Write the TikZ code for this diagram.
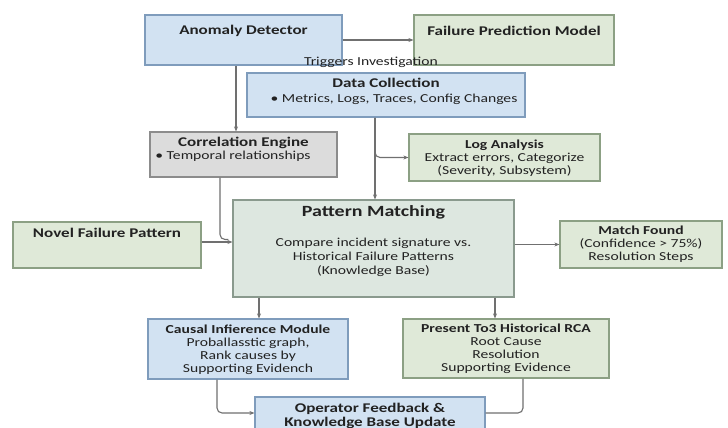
\documentclass[tikz,border=0pt]{standalone}
\usepackage{fontspec}
\setmainfont[FakeStretch=1.28]{Carlito}
\usetikzlibrary{arrows.meta,calc}
\definecolor{bluefill}{HTML}{D2E2F2}
\definecolor{blueline}{HTML}{7F9CBC}
\definecolor{greenfill}{HTML}{DFE9D8}
\definecolor{greenline}{HTML}{8CA084}
\definecolor{grayfill}{HTML}{DCDCDC}
\definecolor{grayline}{HTML}{8C8C8C}
\definecolor{pmfill}{HTML}{DDE7E0}
\definecolor{pmline}{HTML}{8A9A8E}
\definecolor{conn}{HTML}{707070}
\definecolor{ink}{HTML}{222222}
\tikzset{
  box/.style={draw, line width=1.2pt, inner sep=0pt},
  bluebox/.style={box, fill=bluefill, draw=blueline},
  greenbox/.style={box, fill=greenfill, draw=greenline},
  graybox/.style={box, fill=grayfill, draw=grayline},
  pmbox/.style={box, fill=pmfill, draw=pmline},
  txt/.style={text=ink, align=center, inner sep=0pt, font=\fontsize{12.2}{13}\selectfont},
  ttl/.style={text=ink, align=center, inner sep=0pt, font=\fontsize{13.3}{14}\selectfont\bfseries},
  line/.style={draw=conn, line width=1.1pt},
  arr/.style={line, -{Stealth[length=5pt,width=4pt]}},
}
\begin{document}
\begin{tikzpicture}[x=1pt,y=-1pt]
\useasboundingbox (0,0) rectangle (728,428);
\fill[white] (0,0) rectangle (728,428);
\begin{scope}
\clip (0,0) rectangle (728,428);
% boxes
\node[bluebox, minimum width=197pt, minimum height=50pt] (ad) at (243.5,40) {};
\node[greenbox, minimum width=200pt, minimum height=50pt] (fp) at (514,40) {};
\node[bluebox, minimum width=278pt, minimum height=44pt] (dc) at (386,95) {};
\node[graybox, minimum width=187pt, minimum height=45pt] (ce) at (243.5,154.5) {};
\node[greenbox, minimum width=191pt, minimum height=47pt] (la) at (504.5,157.5) {};
\node[pmbox, minimum width=281pt, minimum height=97pt] (pm) at (373.5,248.5) {};
\node[greenbox, minimum width=188pt, minimum height=46pt] (nf) at (107,245) {};
\node[greenbox, minimum width=162pt, minimum height=47pt] (mf) at (641,244.5) {};
\node[bluebox, minimum width=200pt, minimum height=60pt] (ci) at (248,349) {};
\node[greenbox, minimum width=206pt, minimum height=59pt] (pr) at (506,348.5) {};
\node[bluebox, minimum width=230pt, minimum height=43pt] (of) at (370,418.5) {};
% texts
\node[ttl] (adt) at (243.5,31) {Anomaly Detector};
\node[ttl] (fpt) at (514,31) {Failure Prediction Model};
\node[txt] (trig) at (371,62) {Triggers Investigation};
\node[ttl] (dct) at (386,83) {Data Collection};
\node[txt] (dcb) at (394,99) {• Metrics, Logs, Traces, Config Changes};
\node[ttl] (cet) at (243.5,143) {Correlation Engine};
\node[txt] (ceb) at (233,156) {• Temporal relationships};
\node[txt] (lat) at (504.5,158.5) {\textbf{Log Analysis}\\Extract errors, Categorize\\(Severity, Subsystem)};
\node[ttl, font=\fontsize{15.6}{17}\selectfont\bfseries] (pmt) at (373.5,212) {Pattern Matching};
\node[txt, font=\fontsize{12.2}{14}\selectfont] (pmb) at (373.5,257) {Compare incident signature vs.\\Historical Failure Patterns\\(Knowledge Base)};
\node[ttl] (nft) at (107,233) {Novel Failure Pattern};
\node[txt] (mft) at (641,244) {\textbf{Match Found}\\(Confidence > 75\%)\\Resolution Steps};
\node[txt] (cit) at (248,350) {\textbf{Causal Infierence Module}\\Proballasstic graph,\\Rank causes by\\Supporting Evidench};
\node[txt] (prt) at (506,349) {\textbf{Present To3 Historical RCA}\\Root Cause\\Resolution\\Supporting Evidence};
\node[ttl] (oft) at (370,415.5) {Operator Feedback \&\\Knowledge Base Update};
% connectors
\draw[arr] (ad.east) -- (fp.west);
\draw[arr] ([xshift=-7.5pt]ad.south) -- ([xshift=-7.5pt]ce.north);
\draw[arr] ([xshift=-11pt]dc.south) -- ([xshift=1.5pt]pm.north);
\draw[arr, rounded corners=5pt] ([xshift=-11pt]dc.south) |- (la.west);
\draw[line, rounded corners=5pt] ([xshift=-23.5pt]ce.south) |- ($(pm.west)+(-4,-9)$);
\draw[arr] ($(nf.east)+(0,-3)$) -- ($(pm.west)+(0,-6.5)$);
\draw[arr] (pm.east |- mf.west) -- (mf.west);
\draw[arr] ([xshift=11pt]ci.north |- pm.south) -- ([xshift=11pt]ci.north);
\draw[arr] ([xshift=-11pt]pr.north |- pm.south) -- ([xshift=-11pt]pr.north);
\draw[arr, rounded corners=5pt] ([xshift=-31pt]ci.south) |- ($(of.west)+(0,-5.5)$);
\draw[line, rounded corners=5pt] ([xshift=17pt]pr.south) |- ($(of.east)+(0,-5.5)$);
\end{scope}
\end{tikzpicture}
\end{document}
